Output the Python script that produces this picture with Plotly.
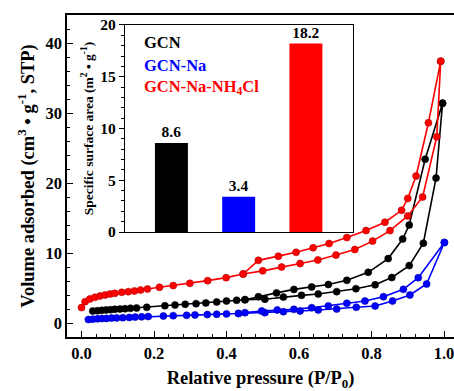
import plotly.graph_objects as go

# ---------------- data ----------------
red_ads_x = [0.0, 0.01, 0.023, 0.037, 0.051, 0.065, 0.079, 0.092, 0.111, 0.129, 0.146, 0.163, 0.182,
             0.215, 0.253, 0.299, 0.348, 0.399, 0.446, 0.50, 0.552, 0.603, 0.652, 0.702, 0.754, 0.803,
             0.851, 0.90, 0.941, 0.98, 0.991]
red_ads_y = [2.2, 3.05, 3.43, 3.67, 3.86, 4.0, 4.14, 4.24, 4.38, 4.48, 4.57, 4.71, 4.86,
             5.1, 5.35, 5.67, 6.05, 6.48, 7.0, 7.45, 8.0, 8.5, 9.0, 9.7, 10.5, 11.7,
             13.2, 15.3, 18.0, 26.6, 37.4]
red_des_x = [0.991, 0.957, 0.923, 0.90, 0.883, 0.837, 0.785, 0.732, 0.683, 0.639, 0.592, 0.543, 0.488, 0.446]
red_des_y = [37.4, 28.6, 21.0, 17.8, 16.1, 14.4, 13.2, 12.2, 11.35, 10.75, 10.1, 9.55, 8.95, 7.0]

black_ads_x = [0.031, 0.044, 0.056, 0.068, 0.08, 0.092, 0.106, 0.12, 0.135, 0.152, 0.18, 0.23, 0.258,
               0.286, 0.316, 0.343, 0.373, 0.4, 0.428, 0.451, 0.506, 0.557, 0.607, 0.653, 0.704, 0.757,
               0.81, 0.856, 0.904, 0.943, 0.978, 0.996]
black_ads_y = [1.71, 1.76, 1.81, 1.86, 1.9, 1.96, 2.0, 2.04, 2.1, 2.14, 2.24, 2.47, 2.57,
               2.67, 2.76, 2.86, 3.0, 3.14, 3.25, 3.33, 3.4, 3.7, 3.95, 4.14, 4.48, 4.9,
               5.45, 6.5, 8.2, 11.4, 20.7, 31.4]
black_des_x = [0.996, 0.948, 0.904, 0.886, 0.846, 0.791, 0.732, 0.681, 0.635, 0.586, 0.538, 0.488, 0.451]
black_des_y = [31.4, 23.4, 14.0, 12.0, 9.2, 7.24, 6.1, 5.5, 5.15, 4.8, 4.3, 3.76, 3.33]

blue_ads_x = [0.019, 0.031, 0.044, 0.056, 0.069, 0.083, 0.097, 0.114, 0.132, 0.148, 0.166, 0.184, 0.226,
              0.253, 0.29, 0.313, 0.347, 0.373, 0.40, 0.433, 0.506, 0.557, 0.603, 0.653, 0.704, 0.758,
              0.81, 0.858, 0.906, 0.952, 1.001]
blue_ads_y = [0.5, 0.55, 0.6, 0.63, 0.66, 0.7, 0.73, 0.76, 0.8, 0.84, 0.88, 0.92, 1.0,
              1.05, 1.1, 1.15, 1.2, 1.25, 1.3, 1.36, 1.48, 1.62, 1.71, 1.86, 2.0, 2.25,
              2.43, 3.14, 4.0, 5.57, 11.5]
blue_des_x = [1.001, 0.929, 0.888, 0.833, 0.782, 0.732, 0.681, 0.635, 0.586, 0.54, 0.497, 0.451, 0.433]
blue_des_y = [11.5, 6.47, 4.81, 3.76, 3.14, 2.81, 2.43, 2.19, 1.95, 1.86, 1.71, 1.48, 1.36]

inset_names = ["GCN", "GCN-Na", "GCN-Na-NH<sub>4</sub>Cl"]
inset_values = [8.6, 3.4, 18.2]
inset_pos = [0, 1, 2]

colors = ["#000000", "#0000FF", "#FF0000"]
FONT = "Liberation Serif"

def bf(size, color="black"):
    return dict(family=FONT, size=size, color=color, weight="bold")

fig = go.Figure()

series = [
    (black_ads_x + black_des_x, black_ads_y + black_des_y, colors[0], "#000000"),
    (blue_ads_x + blue_des_x, blue_ads_y + blue_des_y, colors[1], "#0000AA"),
    (red_ads_x + red_des_x, red_ads_y + red_des_y, colors[2], "#B00000"),
]
for xs, ys, c, edge in series:
    fig.add_trace(go.Scatter(
        x=xs, y=ys, mode="lines+markers",
        line=dict(color=c, width=1.6),
        marker=dict(symbol="circle", size=7, color=c, line=dict(color=edge, width=0.6)),
        showlegend=False, xaxis="x", yaxis="y", cliponaxis=False,
    ))

fig.add_trace(go.Bar(
    x=inset_pos, y=inset_values, width=0.49,
    marker=dict(color=colors, line=dict(width=0)),
    text=[f"{v:.1f}" for v in inset_values], textposition="outside",
    textfont=bf(15.5),
    cliponaxis=False, showlegend=False, xaxis="x2", yaxis="y2",
))

fig.update_layout(
    width=454, height=391,
    margin=dict(l=67, r=0, t=15, b=54),
    paper_bgcolor="white", plot_bgcolor="white",
    font=dict(family=FONT, color="black"),
    xaxis=dict(
        range=[-0.04, 1.0276], tickvals=[0, 0.2, 0.4, 0.6, 0.8, 1.0], tickformat=".1f",
        ticks="inside", ticklen=6, tickwidth=1.3, tickcolor="black",
        minor=dict(dtick=0.04, tick0=0, ticks="inside", ticklen=3.5, tickwidth=1.1, tickcolor="black"),
        showline=True, linewidth=1.6, linecolor="black", mirror=True,
        showgrid=False, zeroline=False, ticklabeloverflow="allow",
        tickfont=bf(16.5),
        title=dict(text="Relative pressure (P/P<sub>0</sub>)", font=bf(18.5), standoff=10),
    ),
    yaxis=dict(
        range=[-2, 44], tickvals=[0, 10, 20, 30, 40],
        ticks="inside", ticklen=6, tickwidth=1.3, tickcolor="black",
        minor=dict(dtick=2, tick0=0, ticks="inside", ticklen=3.5, tickwidth=1.1, tickcolor="black"),
        showline=True, linewidth=1.6, linecolor="black", mirror=False,
        showgrid=False, zeroline=False,
        tickfont=bf(16.5),
        title=dict(text="Volume adsorbed (cm<sup>3</sup> \u2022 g<sup>-1</sup>, STP)", font=bf(18.5), standoff=6),
    ),
    xaxis2=dict(
        domain=[0.1499, 0.739], anchor="y2", range=[-0.69, 2.70],
        showticklabels=False, ticks="", showline=True, linewidth=1.4, linecolor="black", mirror=True,
        showgrid=False, zeroline=False,
    ),
    yaxis2=dict(
        domain=[0.326, 0.969], anchor="x2", range=[0, 20], tickvals=[0, 5, 10, 15, 20],
        ticks="outside", ticklen=5, tickwidth=1.2, tickcolor="black",
        minor=dict(dtick=1, tick0=0, ticks="outside", ticklen=3, tickwidth=1, tickcolor="black"),
        showline=True, linewidth=1.4, linecolor="black", mirror=True,
        showgrid=False, zeroline=False,
        tickfont=bf(15.5),
        title=dict(text="Specific surface area (m<sup>2</sup> \u2022 g<sup>-1</sup>)", font=bf(13.5), standoff=3),
    ),
)

legend_y = [18.3, 16.1, 14.0]
for name, c, yy in zip(inset_names, colors, legend_y):
    fig.add_annotation(x=-0.44, y=yy, xref="x2", yref="y2", xanchor="left", yanchor="middle",
                       text=name, showarrow=False, font=bf(16.5, c))

fig.write_html("out.html", config={"displayModeBar": False},
               post_script="document.body.style.margin='0';document.body.style.overflow='hidden';")
